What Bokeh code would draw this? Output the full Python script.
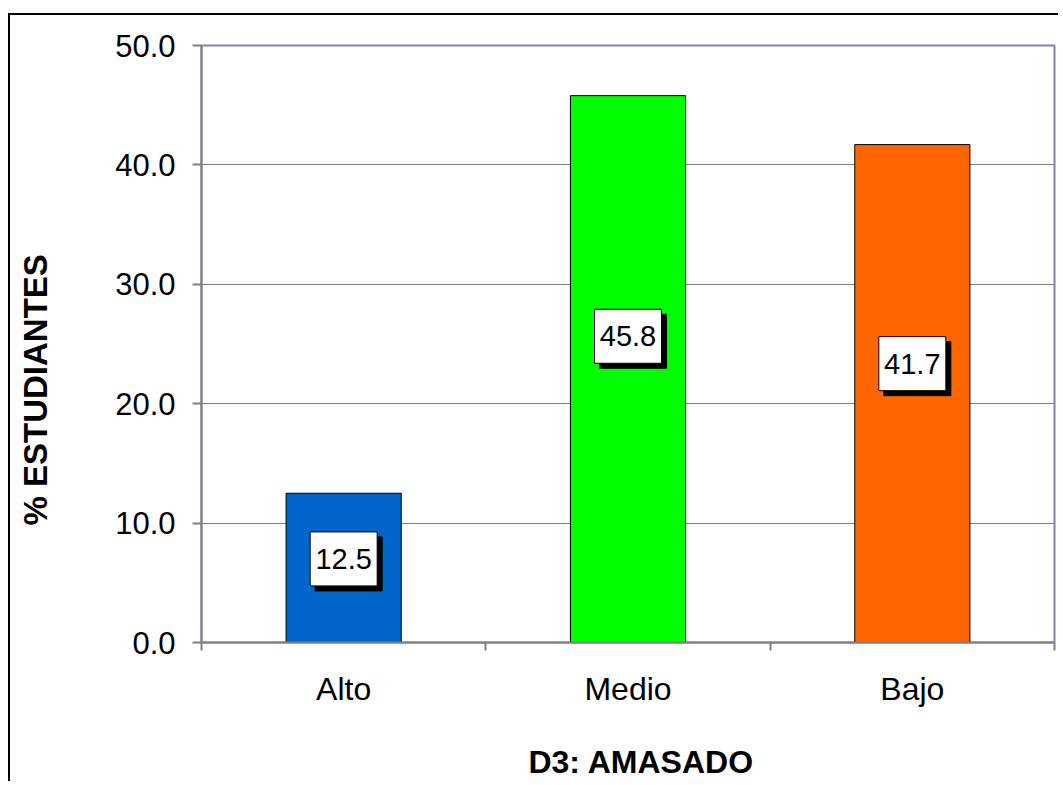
from bokeh.plotting import figure
from bokeh.models import (Range1d, FixedTicker, PrintfTickFormatter, ColumnDataSource,
                          CustomJSTickFormatter)
from bokeh.embed import file_html
from bokeh.resources import INLINE
from bokeh.core.properties import value

# ---- data ----
categories = ["Alto", "Medio", "Bajo"]
percent = [12.5, 45.8, 41.7]
bar_colors = ["#0066CC", "#00FF00", "#FF6600"]
y_ticks = [0, 10, 20, 30, 40, 50]
x_title = "D3: AMASADO"
y_title = "% ESTUDIANTES"

# ---- layout constants ----
FONT = "Liberation Sans"
FRAME_W, FRAME_H = 853, 597
Y_MAX = 50
n = len(categories)
NBSP = "\u00a0"

x_center = [i + 0.5 for i in range(n)]
label_y = [v * 0.56 for v in percent]
dx = 5 * n / FRAME_W        # 5px shadow offset in data units
dy = 5 * Y_MAX / FRAME_H

src = ColumnDataSource(dict(
    x=x_center, top=percent, color=bar_colors, ly=label_y,
    shx=[x + dx for x in x_center], shy=[y - dy for y in label_y],
    txt=[f"{v:.1f}" for v in percent],
))

p = figure(width=1050, height=768, x_range=Range1d(0, n), y_range=Range1d(0, Y_MAX),
           output_backend="svg", toolbar_location=None,
           min_border_left=191, min_border_right=6, min_border_top=30, min_border_bottom=141)
p.styles = {"margin-top": "13px", "margin-left": "8px",
            "border-left": "2px solid #000", "border-top": "2px solid #000"}
p.background_fill_color = "white"
p.border_fill_color = "white"
p.outline_line_color = "#8080B8"
p.outline_line_width = 2

# bars
p.vbar(x="x", top="top", width=0.405, source=src, fill_color="color",
       line_color="black", line_width=1)

# value labels with shadow boxes
p.rect(x="shx", y="shy", width=67, height=54, width_units="screen", height_units="screen",
       source=src, fill_color="black", line_color="black")
p.rect(x="x", y="ly", width=67, height=54, width_units="screen", height_units="screen",
       source=src, fill_color="white", line_color="black", line_width=1)
p.text(x="x", y="ly", text="txt", source=src, text_font=value(FONT), text_font_size="29px",
       text_align="center", text_baseline="middle", text_color="black")

# x axis
xa = p.xaxis[0]
xa.ticker = FixedTicker(ticks=x_center, minor_ticks=list(range(n + 1)))
xa.formatter = CustomJSTickFormatter(args=dict(cats=categories),
                                     code="return cats[Math.floor(tick)];")
xa.major_tick_line_color = None
xa.major_tick_out = 0
xa.major_tick_in = 0
xa.minor_tick_line_color = "#808080"
xa.minor_tick_line_width = 2
xa.minor_tick_out = 8
xa.minor_tick_in = 0
xa.axis_line_color = "#808080"
xa.axis_line_width = 2
xa.major_label_text_font = FONT
xa.major_label_text_font_size = "32px"
xa.major_label_text_color = "black"
xa.major_label_standoff = 20
xa.axis_label = NBSP * 3 + x_title
xa.axis_label_text_font = FONT
xa.axis_label_text_font_size = "32px"
xa.axis_label_text_font_style = "bold"
xa.axis_label_text_color = "black"
xa.axis_label_standoff = 34

# y axis
ya = p.yaxis[0]
ya.ticker = FixedTicker(ticks=y_ticks, minor_ticks=[])
ya.formatter = PrintfTickFormatter(format="%.1f")
ya.major_tick_line_color = "#808080"
ya.major_tick_line_width = 2
ya.major_tick_out = 9
ya.major_tick_in = 0
ya.minor_tick_line_color = None
ya.axis_line_color = "#808080"
ya.axis_line_width = 2
ya.major_label_text_font = FONT
ya.major_label_text_font_size = "31px"
ya.major_label_text_color = "black"
ya.major_label_standoff = 17
ya.axis_label = y_title + NBSP * 10
ya.axis_label_text_font = FONT
ya.axis_label_text_font_size = "33px"
ya.axis_label_text_font_style = "bold"
ya.axis_label_text_color = "black"
ya.axis_label_standoff = 58

p.xgrid.visible = False
p.ygrid.ticker = FixedTicker(ticks=y_ticks)
p.ygrid.grid_line_color = "#808080"
p.ygrid.grid_line_width = 1

open("out.html", "w").write(file_html(p, INLINE))
